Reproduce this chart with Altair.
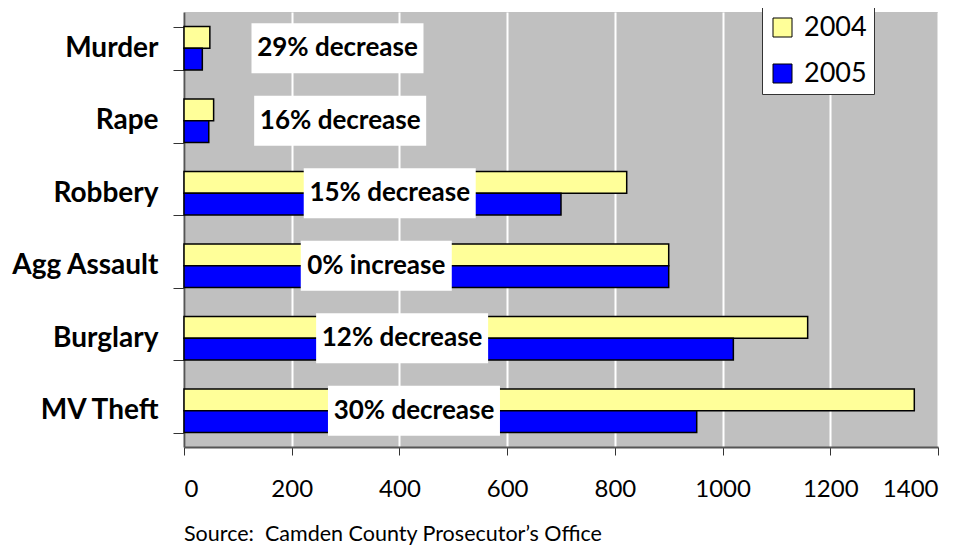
import altair as alt
import pandas as pd

crimes = ["Murder", "Rape", "Robbery", "Agg Assault", "Burglary", "MV Theft"]
years = ["2004", "2005"]
v2004 = [48, 55, 822, 900, 1158, 1356]
v2005 = [34, 46, 700, 900, 1020, 952]
notes = ["29% decrease", "16% decrease", "15% decrease", "0% increase", "12% decrease", "30% decrease"]
note_x = [285, 290, 382, 357, 405, 427]
note_kind = ["decrease", "decrease", "decrease", "increase", "decrease", "decrease"]
x_ticks = [0, 200, 400, 600, 800, 1000, 1200, 1400]
source = "Source:\u00a0 Camden County Prosecutor\u2019s Office"

bars_df = pd.DataFrame({
    "crime": crimes * 2,
    "year": [years[0]] * len(crimes) + [years[1]] * len(crimes),
    "count": v2004 + v2005,
})
notes_df = pd.DataFrame({"crime": crimes, "note": notes, "nx": note_x, "kind": note_kind})

FONT = "Lato"

y_enc = alt.Y(
    "crime:N", sort=crimes,
    scale=alt.Scale(paddingInner=0.4, paddingOuter=0.2),
    axis=alt.Axis(
        title=None, tickBand="extent", grid=False,
        domainColor="#555555", domainWidth=2,
        tickColor="#333333", tickSize=11, tickWidth=1,
        labelFont=FONT, labelFontWeight="bold", labelFontSize=28,
        labelColor="black", labelPadding=15,
    ),
)
x_scale = alt.Scale(domain=[0, 1400], nice=False)

bars = alt.Chart(bars_df).mark_bar(stroke="black", strokeWidth=1.5).encode(
    x=alt.X(
        "count:Q", scale=x_scale,
        axis=alt.Axis(
            title=None, values=x_ticks, format="d", grid=True, gridColor="white", gridWidth=2,
            domainColor="#555555", domainWidth=2,
            tickColor="#333333", tickSize=8, tickWidth=1,
            labelFont=FONT, labelFontSize=24, labelColor="black", labelPadding=22,
        ),
    ),
    y=y_enc,
    yOffset=alt.YOffset("year:N", sort=years, scale=alt.Scale(paddingInner=0, paddingOuter=0)),
    color=alt.Color(
        "year:N", sort=years,
        scale=alt.Scale(domain=years, range=["#FFFF99", "#0000FF"]),
        legend=alt.Legend(
            title=None, orient="none", legendX=578, legendY=-5,
            fillColor="white", strokeColor="#333333", padding=7,
            symbolType="square", symbolSize=361, symbolStrokeColor="black",
            symbolStrokeWidth=1, labelFont=FONT, labelFontSize=27,
            labelColor="black", rowPadding=18, labelOffset=8,
        ),
    ),
)

wide = "M-1,-0.29L1,-0.29L1,0.29L-1,0.29Z"
narrow = "M-0.878,-0.29L0.878,-0.29L0.878,0.29L-0.878,0.29Z"

boxes = alt.Chart(notes_df).mark_point(
    filled=True, color="white", opacity=1, strokeWidth=0, size=29584
).encode(
    x=alt.X("nx:Q", scale=x_scale),
    y=alt.Y("crime:N", sort=crimes),
    shape=alt.Shape("kind:N", scale=alt.Scale(domain=["decrease", "increase"], range=[wide, narrow]), legend=None),
)

texts = alt.Chart(notes_df).mark_text(
    font=FONT, fontWeight="bold", fontSize=26, color="black", align="center", baseline="middle"
).encode(
    x=alt.X("nx:Q", scale=x_scale),
    y=alt.Y("crime:N", sort=crimes),
    text="note:N",
)

chart = alt.layer(bars, boxes, texts).properties(
    width=754, height=435,
    autosize=alt.AutoSizeParams(type="none"),
    padding={"left": 176, "top": 4, "right": 22, "bottom": 101},
    title=alt.TitleParams(
        source, orient="bottom", anchor="start", frame="group", font=FONT, fontSize=21.5,
        fontWeight="normal", color="black", offset=23,
    ),
).configure_view(fill="#C0C0C0", strokeWidth=0)

chart.save("out.html", embed_options={"renderer": "svg", "actions": False})
